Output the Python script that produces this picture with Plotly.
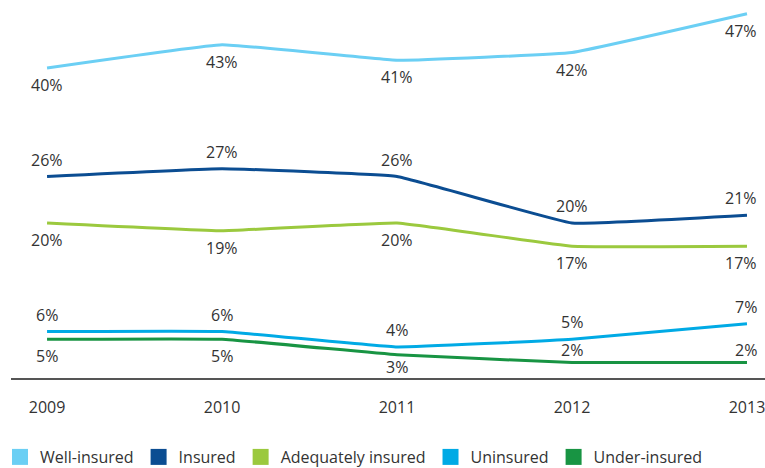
import plotly.graph_objects as go

years = [2009, 2010, 2011, 2012, 2013]
well_insured = [40, 43, 41, 42, 47]
insured = [26, 27, 26, 20, 21]
adequately_insured = [20, 19, 20, 17, 17]
uninsured = [6, 6, 4, 5, 7]
under_insured = [5, 5, 3, 2, 2]

series = [
    ("Well-insured", well_insured, "#6BCFF4", ["below"] * 5),
    ("Insured", insured, "#0B4D92", ["above"] * 5),
    ("Adequately insured", adequately_insured, "#9BC93E", ["below"] * 5),
    ("Uninsured", uninsured, "#00AAE5", ["above"] * 5),
    ("Under-insured", under_insured, "#189443", ["below", "below", "below", "above", "above"]),
]

FONT = "Open Sans"
TXT = "#333333"

fig = go.Figure()
annotations = []
for name, vals, color, places in series:
    fig.add_trace(go.Scatter(
        x=years, y=vals, mode="lines", name=name,
        line=dict(color=color, width=3, shape="spline", smoothing=0.25),
        showlegend=False, hoverinfo="skip",
    ))
    fig.add_trace(go.Scatter(
        x=[None], y=[None], mode="markers", name=name,
        marker=dict(symbol="square", size=16, color=color),
        showlegend=True,
    ))
    for i, (xv, yv) in enumerate(zip(years, vals)):
        above = places[i] == "above"
        shift = 17 if above else -17
        if name == "Under-insured" and (above or i == 2):
            shift = 13 if above else -12
        last = i == len(years) - 1
        annotations.append(dict(
            x=xv, y=yv, text=f"{yv}%", showarrow=False,
            xref="x", yref="y", yshift=shift,
            xanchor="right" if last else "center",
            xshift=12 if last else 0,
            font=dict(family=FONT, size=16, color=TXT),
        ))

fig.update_layout(
    width=765, height=468,
    margin=dict(l=11, r=0, t=5, b=90, autoexpand=False),
    paper_bgcolor="white", plot_bgcolor="white",
    font=dict(family=FONT, size=16, color=TXT),
    annotations=annotations,
    showlegend=True,
    legend=dict(
        orientation="h", xref="container", yref="container",
        x=-0.021, xanchor="left", y=(468 - 457) / 468, yanchor="middle",
        font=dict(family=FONT, size=16, color=TXT),
        itemclick=False, itemdoubleclick=False,
    ),
    xaxis=dict(
        range=[2008.794, 2013.103], tickvals=years, ticktext=[str(y) for y in years],
        showgrid=False, zeroline=False, showline=True, linecolor="#555555", linewidth=1.5,
        ticks="outside", ticklen=14, tickcolor="rgba(0,0,0,0)",
        ticklabeloverflow="allow", automargin=False,
        tickfont=dict(family=FONT, size=16, color=TXT), fixedrange=True,
    ),
    yaxis=dict(
        range=[0, 48.13], showgrid=False, zeroline=False, showline=False,
        showticklabels=False, ticks="", fixedrange=True, automargin=False,
    ),
)

fig.write_html(
    "out.html",
    config={"displayModeBar": False},
    post_script="document.body.style.margin='0';document.body.style.overflow='hidden';",
)
